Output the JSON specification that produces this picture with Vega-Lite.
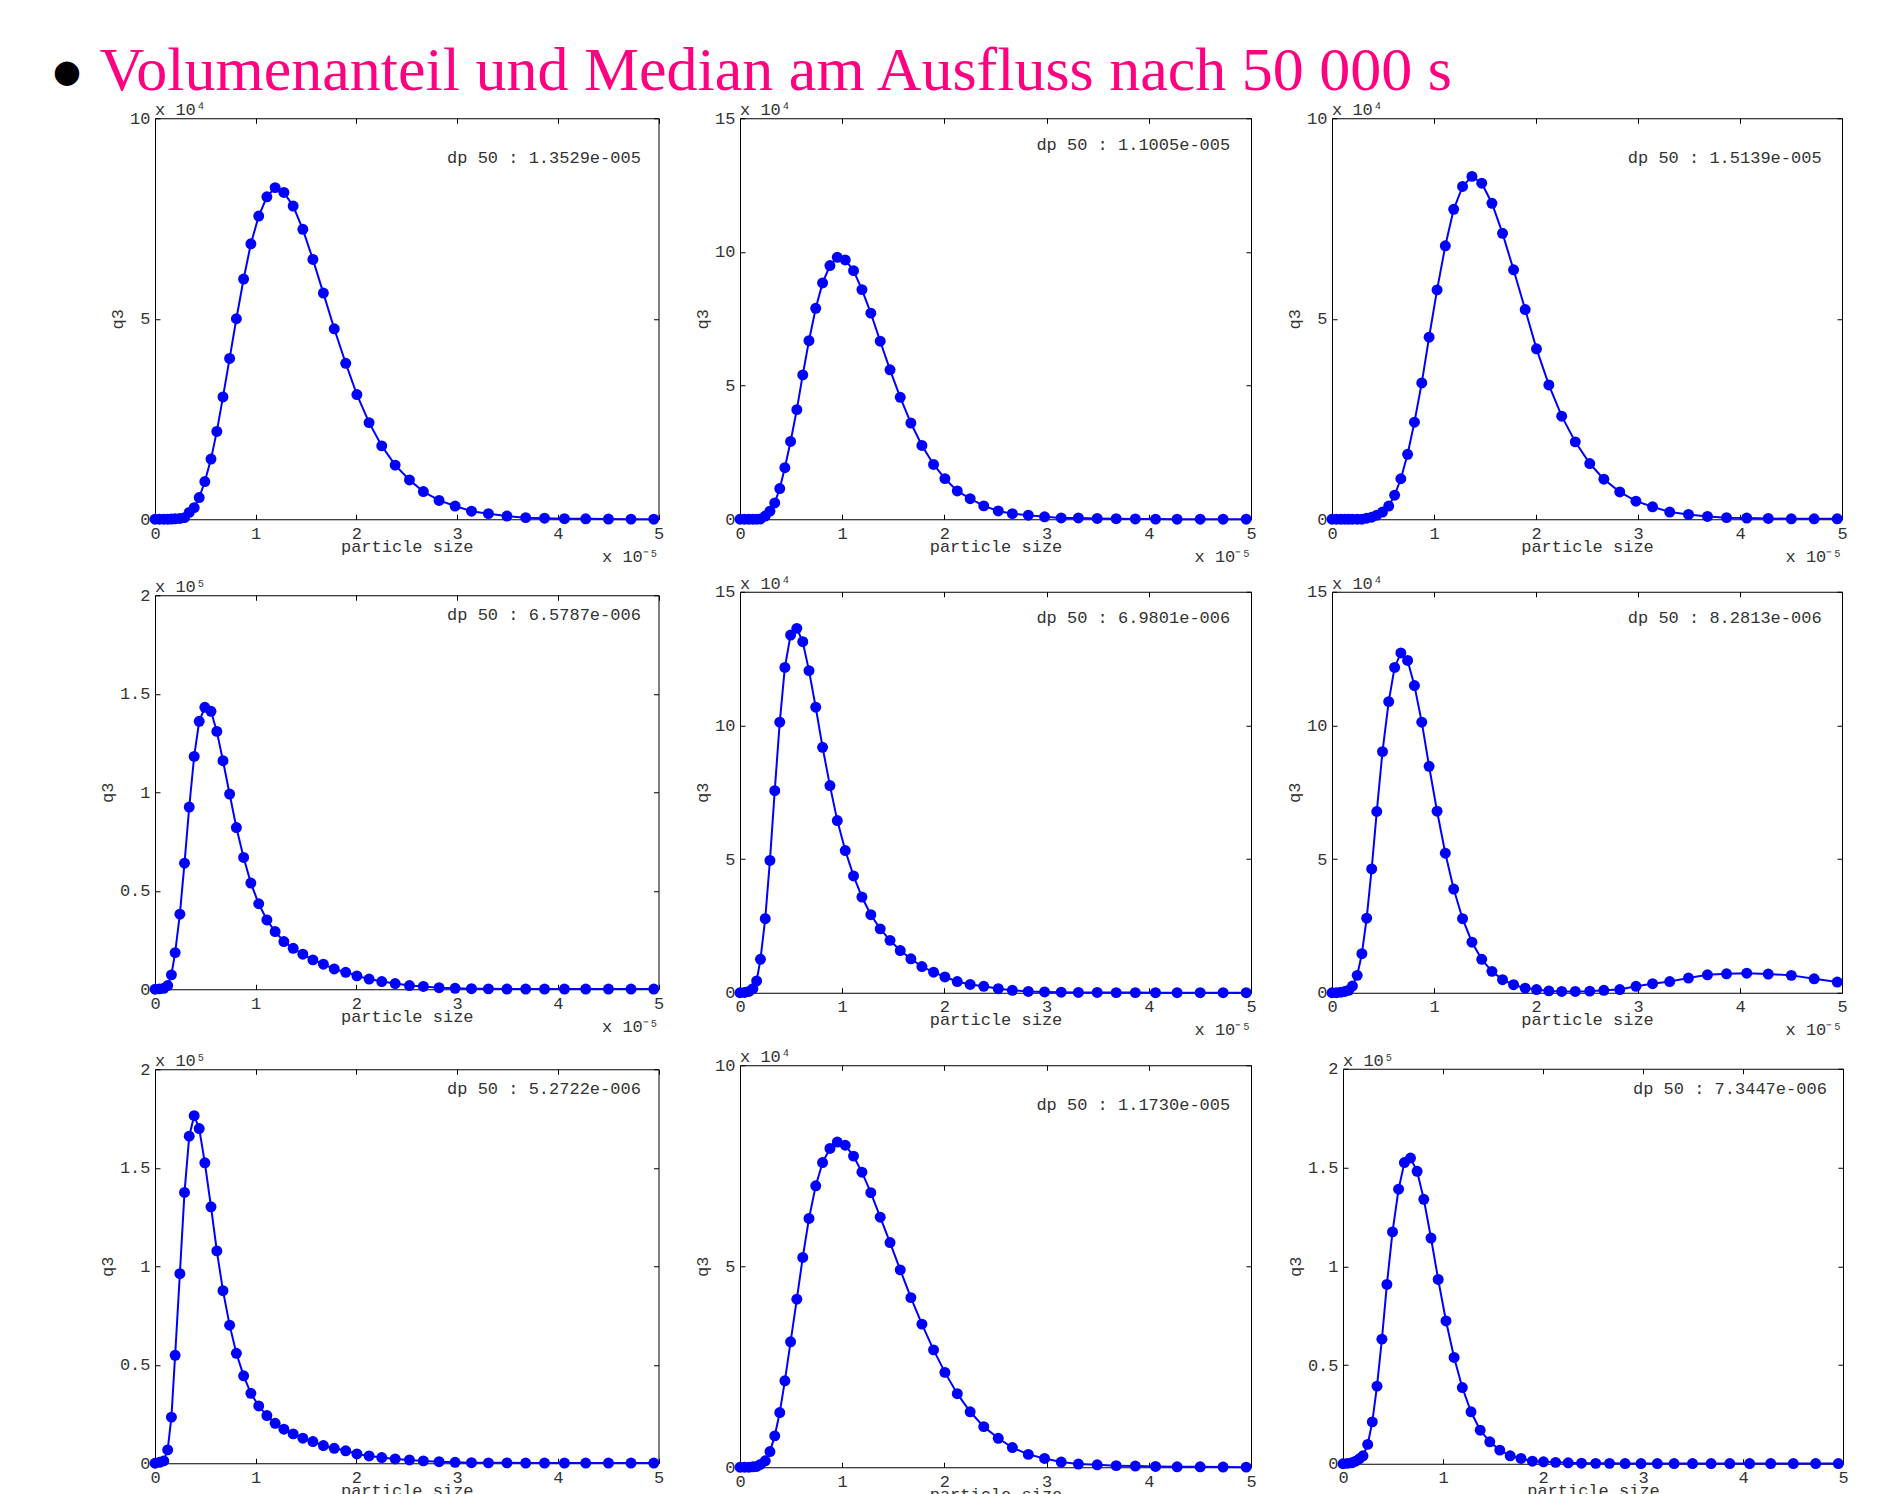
{
"$schema": "https://vega.github.io/schema/vega-lite/v6.json",
"background": "white",
"padding": {"left": 53, "top": 40, "right": 5, "bottom": 5},
"title": {"text": "●", "subtitle": "\u200b\u00a0\u00a0\u00a0Volumenanteil und Median am Ausfluss nach 50 000 s", "anchor": "start", "frame": "group", "dx": -102, "font": "DejaVu Sans", "fontSize": 32, "fontWeight": "normal", "color": "#000000", "subtitleFont": "Liberation Serif", "subtitleFontSize": 62, "subtitleColor": "#FF0080", "subtitlePadding": -47.3, "offset": -17.9},
"datasets": {"q": [
{"size": 0, "p1": 0, "p2": 0, "p3": 0, "p4": 0, "p5": 0, "p6": 0, "p7": 0, "p8": 0, "p9": 0},
{"size": 4.4e-7, "p1": 0, "p2": 0, "p3": 0, "p4": 200, "p5": 100, "p6": 0, "p7": 500, "p8": 0, "p9": 200},
{"size": 8.7e-7, "p1": 0, "p2": 0, "p3": 0, "p4": 500, "p5": 500, "p6": 200, "p7": 1200, "p8": 0, "p9": 500},
{"size": 1.26e-6, "p1": 0, "p2": 0, "p3": 0, "p4": 1900, "p5": 1500, "p6": 500, "p7": 6800, "p8": 100, "p9": 1300},
{"size": 1.63e-6, "p1": 50, "p2": 0, "p3": 0, "p4": 7300, "p5": 4400, "p6": 900, "p7": 23400, "p8": 200, "p9": 2500},
{"size": 2.0e-6, "p1": 100, "p2": 100, "p3": 0, "p4": 18600, "p5": 12500, "p6": 2500, "p7": 54800, "p8": 700, "p9": 4000},
{"size": 2.47e-6, "p1": 200, "p2": 1200, "p3": 0, "p4": 38100, "p5": 27700, "p6": 6500, "p7": 96200, "p8": 1600, "p9": 9800},
{"size": 2.93e-6, "p1": 400, "p2": 3000, "p3": 0, "p4": 64000, "p5": 49500, "p6": 14600, "p7": 137500, "p8": 3900, "p9": 21200},
{"size": 3.4e-6, "p1": 1700, "p2": 6100, "p3": 250, "p4": 92500, "p5": 75600, "p6": 27900, "p7": 166000, "p8": 7800, "p9": 39300},
{"size": 3.89e-6, "p1": 2900, "p2": 11500, "p3": 500, "p4": 118200, "p5": 101200, "p6": 46300, "p7": 176400, "p8": 13600, "p9": 63100},
{"size": 4.39e-6, "p1": 5400, "p2": 19300, "p3": 1000, "p4": 136000, "p5": 121700, "p6": 67800, "p7": 169900, "p8": 21500, "p9": 90800},
{"size": 4.95e-6, "p1": 9400, "p2": 29100, "p3": 1800, "p4": 143100, "p5": 133800, "p6": 90200, "p7": 152500, "p8": 31200, "p9": 117400},
{"size": 5.56e-6, "p1": 15000, "p2": 41000, "p3": 3300, "p4": 141100, "p5": 136300, "p6": 108900, "p7": 130200, "p8": 41800, "p9": 139000},
{"size": 6.14e-6, "p1": 21900, "p2": 54000, "p3": 6000, "p4": 130900, "p5": 131300, "p6": 121700, "p7": 107800, "p8": 52200, "p9": 152500},
{"size": 6.75e-6, "p1": 30500, "p2": 66800, "p3": 10100, "p4": 116000, "p5": 120500, "p6": 127100, "p7": 87600, "p8": 61900, "p9": 154800},
{"size": 7.41e-6, "p1": 40100, "p2": 78900, "p3": 16200, "p4": 99100, "p5": 106800, "p6": 124300, "p7": 70100, "p8": 70000, "p9": 148100},
{"size": 8.08e-6, "p1": 50000, "p2": 88400, "p3": 24200, "p4": 82100, "p5": 91800, "p6": 114900, "p7": 55800, "p8": 75800, "p9": 133900},
{"size": 8.8e-6, "p1": 59900, "p2": 94900, "p3": 34000, "p4": 66900, "p5": 77500, "p6": 101200, "p7": 44400, "p8": 79300, "p9": 114300},
{"size": 9.52e-6, "p1": 68700, "p2": 98000, "p3": 45400, "p4": 53900, "p5": 64400, "p6": 84700, "p7": 35500, "p8": 80900, "p9": 93300},
{"size": 1.03e-5, "p1": 75600, "p2": 97000, "p3": 57200, "p4": 43400, "p5": 53200, "p6": 67900, "p7": 29100, "p8": 80100, "p9": 72300},
{"size": 1.111e-5, "p1": 80400, "p2": 93000, "p3": 68200, "p4": 35200, "p5": 43700, "p6": 52200, "p7": 24200, "p8": 77400, "p9": 53800},
{"size": 1.193e-5, "p1": 82700, "p2": 85900, "p3": 77300, "p4": 29300, "p5": 35800, "p6": 38800, "p7": 20300, "p8": 73400, "p9": 38600},
{"size": 1.28e-5, "p1": 81500, "p2": 77100, "p3": 83000, "p4": 24200, "p5": 29200, "p6": 27700, "p7": 17300, "p8": 68300, "p9": 26300},
{"size": 1.372e-5, "p1": 78100, "p2": 66600, "p3": 85500, "p4": 20800, "p5": 23900, "p6": 18900, "p7": 14900, "p8": 62200, "p9": 17000},
{"size": 1.468e-5, "p1": 72300, "p2": 55900, "p3": 83800, "p4": 17800, "p5": 19600, "p6": 12500, "p7": 12700, "p8": 55900, "p9": 11100},
{"size": 1.568e-5, "p1": 64800, "p2": 45600, "p3": 78800, "p4": 14900, "p5": 15800, "p6": 8000, "p7": 11000, "p8": 49100, "p9": 6900},
{"size": 1.672e-5, "p1": 56400, "p2": 36000, "p3": 71300, "p4": 12700, "p5": 12700, "p6": 4900, "p7": 9000, "p8": 42200, "p9": 4000},
{"size": 1.78e-5, "p1": 47500, "p2": 27600, "p3": 62200, "p4": 10300, "p5": 9800, "p6": 3000, "p7": 7600, "p8": 35600, "p9": 2700},
{"size": 1.894e-5, "p1": 38900, "p2": 20500, "p3": 52300, "p4": 8600, "p5": 7700, "p6": 1700, "p7": 6300, "p8": 29200, "p9": 1300},
{"size": 2.005e-5, "p1": 31100, "p2": 15200, "p3": 42500, "p4": 6800, "p5": 5900, "p6": 1200, "p7": 4700, "p8": 23600, "p9": 1000},
{"size": 2.126e-5, "p1": 24100, "p2": 10600, "p3": 33500, "p4": 5200, "p5": 4200, "p6": 700, "p7": 3700, "p8": 18300, "p9": 700},
{"size": 2.252e-5, "p1": 18300, "p2": 7700, "p3": 25700, "p4": 3900, "p5": 3100, "p6": 500, "p7": 2900, "p8": 13800, "p9": 500},
{"size": 2.385e-5, "p1": 13500, "p2": 5000, "p3": 19300, "p4": 2900, "p5": 2400, "p6": 500, "p7": 2200, "p8": 10100, "p9": 300},
{"size": 2.527e-5, "p1": 9800, "p2": 3100, "p3": 13900, "p4": 1900, "p5": 1500, "p6": 600, "p7": 1700, "p8": 7200, "p9": 200},
{"size": 2.665e-5, "p1": 6900, "p2": 2100, "p3": 10000, "p4": 1400, "p5": 900, "p6": 900, "p7": 1200, "p8": 4900, "p9": 200},
{"size": 2.821e-5, "p1": 4700, "p2": 1500, "p3": 6800, "p4": 800, "p5": 500, "p6": 1200, "p7": 800, "p8": 3200, "p9": 100},
{"size": 2.98e-5, "p1": 3300, "p2": 900, "p3": 4500, "p4": 500, "p5": 300, "p6": 2400, "p7": 500, "p8": 2200, "p9": 100},
{"size": 3.143e-5, "p1": 2000, "p2": 500, "p3": 3100, "p4": 300, "p5": 200, "p6": 3400, "p7": 300, "p8": 1300, "p9": 100},
{"size": 3.311e-5, "p1": 1400, "p2": 500, "p3": 1800, "p4": 200, "p5": 100, "p6": 4200, "p7": 200, "p8": 800, "p9": 100},
{"size": 3.495e-5, "p1": 800, "p2": 300, "p3": 1200, "p4": 100, "p5": 100, "p6": 5500, "p7": 200, "p8": 600, "p9": 100},
{"size": 3.681e-5, "p1": 400, "p2": 200, "p3": 700, "p4": 100, "p5": 50, "p6": 6700, "p7": 100, "p8": 400, "p9": 100},
{"size": 3.868e-5, "p1": 250, "p2": 100, "p3": 400, "p4": 100, "p5": 50, "p6": 7100, "p7": 100, "p8": 300, "p9": 100},
{"size": 4.066e-5, "p1": 150, "p2": 50, "p3": 300, "p4": 100, "p5": 30, "p6": 7300, "p7": 100, "p8": 200, "p9": 100},
{"size": 4.277e-5, "p1": 100, "p2": 30, "p3": 200, "p4": 100, "p5": 20, "p6": 7000, "p7": 100, "p8": 100, "p9": 100},
{"size": 4.503e-5, "p1": 50, "p2": 20, "p3": 100, "p4": 100, "p5": 10, "p6": 6500, "p7": 100, "p8": 100, "p9": 100},
{"size": 4.727e-5, "p1": 30, "p2": 10, "p3": 100, "p4": 100, "p5": 10, "p6": 5200, "p7": 100, "p8": 50, "p9": 100},
{"size": 4.953e-5, "p1": 20, "p2": 10, "p3": 100, "p4": 100, "p5": 10, "p6": 4000, "p7": 100, "p8": 30, "p9": 100}
]},
"data": {"name": "q"},
"spacing": 8.5,
"vconcat": [
{"hconcat": [
{"width": 503.5, "height": 401,
 "title": {"text": "x 10⁴", "anchor": "start", "frame": "group", "baseline": "alphabetic", "offset": -23, "font": "Liberation Mono", "fontSize": 17, "fontWeight": "normal", "color": "#333333"},
 "layer": [
  {"mark": {"type": "line", "color": "#0000FF", "strokeWidth": 2},
   "encoding": {"x": {"field": "size", "type": "quantitative", "scale": {"domain": [0, 0.00005], "nice": false, "zero": false}, "axis": {"orient": "bottom", "values": [0, 0.00001, 0.00002, 0.00003, 0.00004, 0.00005], "labelExpr": "format(datum.value*100000,'~g')", "title": "particle size", "titleY": 32, "titleBaseline": "alphabetic", "labelPadding": 11}},
    "y": {"field": "p1", "type": "quantitative", "scale": {"domain": [0, 100000], "nice": false}, "axis": {"orient": "left", "values": [0, 50000, 100000], "labelExpr": "format(datum.value/10000,'~g')", "title": "q3", "labelPadding": 10, "titlePadding": 3}}}},
  {"mark": {"type": "point", "filled": true, "color": "#0000FF", "size": 120, "opacity": 1},
   "encoding": {"x": {"field": "size", "type": "quantitative", "scale": {"domain": [0, 0.00005], "nice": false, "zero": false}, "axis": {"orient": "top", "values": [0, 0.00001, 0.00002, 0.00003, 0.00004, 0.00005], "labels": false, "title": null}},
    "y": {"field": "p1", "type": "quantitative", "scale": {"domain": [0, 100000], "nice": false}, "axis": {"orient": "right", "values": [0, 50000, 100000], "labels": false, "title": null}}}},
  {"mark": {"type": "point", "opacity": 0},
   "encoding": {"x": {"field": "size", "type": "quantitative", "scale": {"domain": [0, 0.00005], "nice": false, "zero": false}, "axis": {"orient": "bottom", "labels": false, "ticks": false, "title": "x 10⁻⁵", "titleAnchor": "end", "titleY": 42, "titleBaseline": "alphabetic"}},
    "y": {"field": "p1", "type": "quantitative", "scale": {"domain": [0, 100000], "nice": false}, "axis": null}}},
  {"data": {"values": [{"label": "dp 50 : 1.3529e-005"}]},
   "mark": {"type": "text", "align": "left", "baseline": "middle", "font": "Liberation Mono", "fontSize": 17, "color": "#333333"},
   "encoding": {"x": {"datum": 0.000029, "type": "quantitative", "axis": null}, "y": {"datum": 90000, "type": "quantitative", "axis": null}, "text": {"field": "label"}}}
 ],
 "resolve": {"axis": {"x": "independent", "y": "independent"}}},
{"width": 511, "height": 401,
 "title": {"text": "x 10⁴", "anchor": "start", "frame": "group", "baseline": "alphabetic", "offset": -23, "font": "Liberation Mono", "fontSize": 17, "fontWeight": "normal", "color": "#333333"},
 "layer": [
  {"mark": {"type": "line", "color": "#0000FF", "strokeWidth": 2},
   "encoding": {"x": {"field": "size", "type": "quantitative", "scale": {"domain": [0, 0.00005], "nice": false, "zero": false}, "axis": {"orient": "bottom", "values": [0, 0.00001, 0.00002, 0.00003, 0.00004, 0.00005], "labelExpr": "format(datum.value*100000,'~g')", "title": "particle size", "titleY": 32, "titleBaseline": "alphabetic", "labelPadding": 11}},
    "y": {"field": "p2", "type": "quantitative", "scale": {"domain": [0, 150000], "nice": false}, "axis": {"orient": "left", "values": [0, 50000, 100000, 150000], "labelExpr": "format(datum.value/10000,'~g')", "title": "q3", "labelPadding": 10, "titlePadding": 3}}}},
  {"mark": {"type": "point", "filled": true, "color": "#0000FF", "size": 120, "opacity": 1},
   "encoding": {"x": {"field": "size", "type": "quantitative", "scale": {"domain": [0, 0.00005], "nice": false, "zero": false}, "axis": {"orient": "top", "values": [0, 0.00001, 0.00002, 0.00003, 0.00004, 0.00005], "labels": false, "title": null}},
    "y": {"field": "p2", "type": "quantitative", "scale": {"domain": [0, 150000], "nice": false}, "axis": {"orient": "right", "values": [0, 50000, 100000, 150000], "labels": false, "title": null}}}},
  {"mark": {"type": "point", "opacity": 0},
   "encoding": {"x": {"field": "size", "type": "quantitative", "scale": {"domain": [0, 0.00005], "nice": false, "zero": false}, "axis": {"orient": "bottom", "labels": false, "ticks": false, "title": "x 10⁻⁵", "titleAnchor": "end", "titleY": 42, "titleBaseline": "alphabetic"}},
    "y": {"field": "p2", "type": "quantitative", "scale": {"domain": [0, 150000], "nice": false}, "axis": null}}},
  {"data": {"values": [{"label": "dp 50 : 1.1005e-005"}]},
   "mark": {"type": "text", "align": "left", "baseline": "middle", "font": "Liberation Mono", "fontSize": 17, "color": "#333333"},
   "encoding": {"x": {"datum": 0.000029, "type": "quantitative", "axis": null}, "y": {"datum": 140000, "type": "quantitative", "axis": null}, "text": {"field": "label"}}}
 ],
 "resolve": {"axis": {"x": "independent", "y": "independent"}}},
{"width": 510, "height": 401,
 "title": {"text": "x 10⁴", "anchor": "start", "frame": "group", "baseline": "alphabetic", "offset": -23, "font": "Liberation Mono", "fontSize": 17, "fontWeight": "normal", "color": "#333333"},
 "layer": [
  {"mark": {"type": "line", "color": "#0000FF", "strokeWidth": 2},
   "encoding": {"x": {"field": "size", "type": "quantitative", "scale": {"domain": [0, 0.00005], "nice": false, "zero": false}, "axis": {"orient": "bottom", "values": [0, 0.00001, 0.00002, 0.00003, 0.00004, 0.00005], "labelExpr": "format(datum.value*100000,'~g')", "title": "particle size", "titleY": 32, "titleBaseline": "alphabetic", "labelPadding": 11}},
    "y": {"field": "p3", "type": "quantitative", "scale": {"domain": [0, 100000], "nice": false}, "axis": {"orient": "left", "values": [0, 50000, 100000], "labelExpr": "format(datum.value/10000,'~g')", "title": "q3", "labelPadding": 10, "titlePadding": 3}}}},
  {"mark": {"type": "point", "filled": true, "color": "#0000FF", "size": 120, "opacity": 1},
   "encoding": {"x": {"field": "size", "type": "quantitative", "scale": {"domain": [0, 0.00005], "nice": false, "zero": false}, "axis": {"orient": "top", "values": [0, 0.00001, 0.00002, 0.00003, 0.00004, 0.00005], "labels": false, "title": null}},
    "y": {"field": "p3", "type": "quantitative", "scale": {"domain": [0, 100000], "nice": false}, "axis": {"orient": "right", "values": [0, 50000, 100000], "labels": false, "title": null}}}},
  {"mark": {"type": "point", "opacity": 0},
   "encoding": {"x": {"field": "size", "type": "quantitative", "scale": {"domain": [0, 0.00005], "nice": false, "zero": false}, "axis": {"orient": "bottom", "labels": false, "ticks": false, "title": "x 10⁻⁵", "titleAnchor": "end", "titleY": 42, "titleBaseline": "alphabetic"}},
    "y": {"field": "p3", "type": "quantitative", "scale": {"domain": [0, 100000], "nice": false}, "axis": null}}},
  {"data": {"values": [{"label": "dp 50 : 1.5139e-005"}]},
   "mark": {"type": "text", "align": "left", "baseline": "middle", "font": "Liberation Mono", "fontSize": 17, "color": "#333333"},
   "encoding": {"x": {"datum": 0.000029, "type": "quantitative", "axis": null}, "y": {"datum": 90000, "type": "quantitative", "axis": null}, "text": {"field": "label"}}}
 ],
 "resolve": {"axis": {"x": "independent", "y": "independent"}}}
], "spacing": 28, "center": true},
{"hconcat": [
{"width": 503.5, "height": 394,
 "title": {"text": "x 10⁵", "anchor": "start", "frame": "group", "baseline": "alphabetic", "offset": -23, "font": "Liberation Mono", "fontSize": 17, "fontWeight": "normal", "color": "#333333"},
 "layer": [
  {"mark": {"type": "line", "color": "#0000FF", "strokeWidth": 2},
   "encoding": {"x": {"field": "size", "type": "quantitative", "scale": {"domain": [0, 0.00005], "nice": false, "zero": false}, "axis": {"orient": "bottom", "values": [0, 0.00001, 0.00002, 0.00003, 0.00004, 0.00005], "labelExpr": "format(datum.value*100000,'~g')", "title": "particle size", "titleY": 32, "titleBaseline": "alphabetic", "labelPadding": 11}},
    "y": {"field": "p4", "type": "quantitative", "scale": {"domain": [0, 200000], "nice": false}, "axis": {"orient": "left", "values": [0, 50000, 100000, 150000, 200000], "labelExpr": "format(datum.value/100000,'~g')", "title": "q3", "labelPadding": 10, "titlePadding": 3}}}},
  {"mark": {"type": "point", "filled": true, "color": "#0000FF", "size": 120, "opacity": 1},
   "encoding": {"x": {"field": "size", "type": "quantitative", "scale": {"domain": [0, 0.00005], "nice": false, "zero": false}, "axis": {"orient": "top", "values": [0, 0.00001, 0.00002, 0.00003, 0.00004, 0.00005], "labels": false, "title": null}},
    "y": {"field": "p4", "type": "quantitative", "scale": {"domain": [0, 200000], "nice": false}, "axis": {"orient": "right", "values": [0, 50000, 100000, 150000, 200000], "labels": false, "title": null}}}},
  {"mark": {"type": "point", "opacity": 0},
   "encoding": {"x": {"field": "size", "type": "quantitative", "scale": {"domain": [0, 0.00005], "nice": false, "zero": false}, "axis": {"orient": "bottom", "labels": false, "ticks": false, "title": "x 10⁻⁵", "titleAnchor": "end", "titleY": 42, "titleBaseline": "alphabetic"}},
    "y": {"field": "p4", "type": "quantitative", "scale": {"domain": [0, 200000], "nice": false}, "axis": null}}},
  {"data": {"values": [{"label": "dp 50 : 6.5787e-006"}]},
   "mark": {"type": "text", "align": "left", "baseline": "middle", "font": "Liberation Mono", "fontSize": 17, "color": "#333333"},
   "encoding": {"x": {"datum": 0.000029, "type": "quantitative", "axis": null}, "y": {"datum": 190000, "type": "quantitative", "axis": null}, "text": {"field": "label"}}}
 ],
 "resolve": {"axis": {"x": "independent", "y": "independent"}}},
{"width": 511, "height": 401,
 "title": {"text": "x 10⁴", "anchor": "start", "frame": "group", "baseline": "alphabetic", "offset": -23, "font": "Liberation Mono", "fontSize": 17, "fontWeight": "normal", "color": "#333333"},
 "layer": [
  {"mark": {"type": "line", "color": "#0000FF", "strokeWidth": 2},
   "encoding": {"x": {"field": "size", "type": "quantitative", "scale": {"domain": [0, 0.00005], "nice": false, "zero": false}, "axis": {"orient": "bottom", "values": [0, 0.00001, 0.00002, 0.00003, 0.00004, 0.00005], "labelExpr": "format(datum.value*100000,'~g')", "title": "particle size", "titleY": 32, "titleBaseline": "alphabetic", "labelPadding": 11}},
    "y": {"field": "p5", "type": "quantitative", "scale": {"domain": [0, 150000], "nice": false}, "axis": {"orient": "left", "values": [0, 50000, 100000, 150000], "labelExpr": "format(datum.value/10000,'~g')", "title": "q3", "labelPadding": 10, "titlePadding": 3}}}},
  {"mark": {"type": "point", "filled": true, "color": "#0000FF", "size": 120, "opacity": 1},
   "encoding": {"x": {"field": "size", "type": "quantitative", "scale": {"domain": [0, 0.00005], "nice": false, "zero": false}, "axis": {"orient": "top", "values": [0, 0.00001, 0.00002, 0.00003, 0.00004, 0.00005], "labels": false, "title": null}},
    "y": {"field": "p5", "type": "quantitative", "scale": {"domain": [0, 150000], "nice": false}, "axis": {"orient": "right", "values": [0, 50000, 100000, 150000], "labels": false, "title": null}}}},
  {"mark": {"type": "point", "opacity": 0},
   "encoding": {"x": {"field": "size", "type": "quantitative", "scale": {"domain": [0, 0.00005], "nice": false, "zero": false}, "axis": {"orient": "bottom", "labels": false, "ticks": false, "title": "x 10⁻⁵", "titleAnchor": "end", "titleY": 42, "titleBaseline": "alphabetic"}},
    "y": {"field": "p5", "type": "quantitative", "scale": {"domain": [0, 150000], "nice": false}, "axis": null}}},
  {"data": {"values": [{"label": "dp 50 : 6.9801e-006"}]},
   "mark": {"type": "text", "align": "left", "baseline": "middle", "font": "Liberation Mono", "fontSize": 17, "color": "#333333"},
   "encoding": {"x": {"datum": 0.000029, "type": "quantitative", "axis": null}, "y": {"datum": 140000, "type": "quantitative", "axis": null}, "text": {"field": "label"}}}
 ],
 "resolve": {"axis": {"x": "independent", "y": "independent"}}},
{"width": 510, "height": 401,
 "title": {"text": "x 10⁴", "anchor": "start", "frame": "group", "baseline": "alphabetic", "offset": -23, "font": "Liberation Mono", "fontSize": 17, "fontWeight": "normal", "color": "#333333"},
 "layer": [
  {"mark": {"type": "line", "color": "#0000FF", "strokeWidth": 2},
   "encoding": {"x": {"field": "size", "type": "quantitative", "scale": {"domain": [0, 0.00005], "nice": false, "zero": false}, "axis": {"orient": "bottom", "values": [0, 0.00001, 0.00002, 0.00003, 0.00004, 0.00005], "labelExpr": "format(datum.value*100000,'~g')", "title": "particle size", "titleY": 32, "titleBaseline": "alphabetic", "labelPadding": 11}},
    "y": {"field": "p6", "type": "quantitative", "scale": {"domain": [0, 150000], "nice": false}, "axis": {"orient": "left", "values": [0, 50000, 100000, 150000], "labelExpr": "format(datum.value/10000,'~g')", "title": "q3", "labelPadding": 10, "titlePadding": 3}}}},
  {"mark": {"type": "point", "filled": true, "color": "#0000FF", "size": 120, "opacity": 1},
   "encoding": {"x": {"field": "size", "type": "quantitative", "scale": {"domain": [0, 0.00005], "nice": false, "zero": false}, "axis": {"orient": "top", "values": [0, 0.00001, 0.00002, 0.00003, 0.00004, 0.00005], "labels": false, "title": null}},
    "y": {"field": "p6", "type": "quantitative", "scale": {"domain": [0, 150000], "nice": false}, "axis": {"orient": "right", "values": [0, 50000, 100000, 150000], "labels": false, "title": null}}}},
  {"mark": {"type": "point", "opacity": 0},
   "encoding": {"x": {"field": "size", "type": "quantitative", "scale": {"domain": [0, 0.00005], "nice": false, "zero": false}, "axis": {"orient": "bottom", "labels": false, "ticks": false, "title": "x 10⁻⁵", "titleAnchor": "end", "titleY": 42, "titleBaseline": "alphabetic"}},
    "y": {"field": "p6", "type": "quantitative", "scale": {"domain": [0, 150000], "nice": false}, "axis": null}}},
  {"data": {"values": [{"label": "dp 50 : 8.2813e-006"}]},
   "mark": {"type": "text", "align": "left", "baseline": "middle", "font": "Liberation Mono", "fontSize": 17, "color": "#333333"},
   "encoding": {"x": {"datum": 0.000029, "type": "quantitative", "axis": null}, "y": {"datum": 140000, "type": "quantitative", "axis": null}, "text": {"field": "label"}}}
 ],
 "resolve": {"axis": {"x": "independent", "y": "independent"}}}
], "spacing": 28, "center": true},
{"hconcat": [
{"width": 503.5, "height": 394,
 "title": {"text": "x 10⁵", "anchor": "start", "frame": "group", "baseline": "alphabetic", "offset": -23, "font": "Liberation Mono", "fontSize": 17, "fontWeight": "normal", "color": "#333333"},
 "layer": [
  {"mark": {"type": "line", "color": "#0000FF", "strokeWidth": 2},
   "encoding": {"x": {"field": "size", "type": "quantitative", "scale": {"domain": [0, 0.00005], "nice": false, "zero": false}, "axis": {"orient": "bottom", "values": [0, 0.00001, 0.00002, 0.00003, 0.00004, 0.00005], "labelExpr": "format(datum.value*100000,'~g')", "title": "particle size", "titleY": 32, "titleBaseline": "alphabetic", "labelPadding": 11}},
    "y": {"field": "p7", "type": "quantitative", "scale": {"domain": [0, 200000], "nice": false}, "axis": {"orient": "left", "values": [0, 50000, 100000, 150000, 200000], "labelExpr": "format(datum.value/100000,'~g')", "title": "q3", "labelPadding": 10, "titlePadding": 3}}}},
  {"mark": {"type": "point", "filled": true, "color": "#0000FF", "size": 120, "opacity": 1},
   "encoding": {"x": {"field": "size", "type": "quantitative", "scale": {"domain": [0, 0.00005], "nice": false, "zero": false}, "axis": {"orient": "top", "values": [0, 0.00001, 0.00002, 0.00003, 0.00004, 0.00005], "labels": false, "title": null}},
    "y": {"field": "p7", "type": "quantitative", "scale": {"domain": [0, 200000], "nice": false}, "axis": {"orient": "right", "values": [0, 50000, 100000, 150000, 200000], "labels": false, "title": null}}}},
  {"mark": {"type": "point", "opacity": 0},
   "encoding": {"x": {"field": "size", "type": "quantitative", "scale": {"domain": [0, 0.00005], "nice": false, "zero": false}, "axis": {"orient": "bottom", "labels": false, "ticks": false, "title": "x 10⁻⁵", "titleAnchor": "end", "titleY": 42, "titleBaseline": "alphabetic"}},
    "y": {"field": "p7", "type": "quantitative", "scale": {"domain": [0, 200000], "nice": false}, "axis": null}}},
  {"data": {"values": [{"label": "dp 50 : 5.2722e-006"}]},
   "mark": {"type": "text", "align": "left", "baseline": "middle", "font": "Liberation Mono", "fontSize": 17, "color": "#333333"},
   "encoding": {"x": {"datum": 0.000029, "type": "quantitative", "axis": null}, "y": {"datum": 190000, "type": "quantitative", "axis": null}, "text": {"field": "label"}}}
 ],
 "resolve": {"axis": {"x": "independent", "y": "independent"}}},
{"width": 511, "height": 402,
 "title": {"text": "x 10⁴", "anchor": "start", "frame": "group", "baseline": "alphabetic", "offset": -23, "font": "Liberation Mono", "fontSize": 17, "fontWeight": "normal", "color": "#333333"},
 "layer": [
  {"mark": {"type": "line", "color": "#0000FF", "strokeWidth": 2},
   "encoding": {"x": {"field": "size", "type": "quantitative", "scale": {"domain": [0, 0.00005], "nice": false, "zero": false}, "axis": {"orient": "bottom", "values": [0, 0.00001, 0.00002, 0.00003, 0.00004, 0.00005], "labelExpr": "format(datum.value*100000,'~g')", "title": "particle size", "titleY": 32, "titleBaseline": "alphabetic", "labelPadding": 11}},
    "y": {"field": "p8", "type": "quantitative", "scale": {"domain": [0, 100000], "nice": false}, "axis": {"orient": "left", "values": [0, 50000, 100000], "labelExpr": "format(datum.value/10000,'~g')", "title": "q3", "labelPadding": 10, "titlePadding": 3}}}},
  {"mark": {"type": "point", "filled": true, "color": "#0000FF", "size": 120, "opacity": 1},
   "encoding": {"x": {"field": "size", "type": "quantitative", "scale": {"domain": [0, 0.00005], "nice": false, "zero": false}, "axis": {"orient": "top", "values": [0, 0.00001, 0.00002, 0.00003, 0.00004, 0.00005], "labels": false, "title": null}},
    "y": {"field": "p8", "type": "quantitative", "scale": {"domain": [0, 100000], "nice": false}, "axis": {"orient": "right", "values": [0, 50000, 100000], "labels": false, "title": null}}}},
  {"mark": {"type": "point", "opacity": 0},
   "encoding": {"x": {"field": "size", "type": "quantitative", "scale": {"domain": [0, 0.00005], "nice": false, "zero": false}, "axis": {"orient": "bottom", "labels": false, "ticks": false, "title": "x 10⁻⁵", "titleAnchor": "end", "titleY": 42, "titleBaseline": "alphabetic"}},
    "y": {"field": "p8", "type": "quantitative", "scale": {"domain": [0, 100000], "nice": false}, "axis": null}}},
  {"data": {"values": [{"label": "dp 50 : 1.1730e-005"}]},
   "mark": {"type": "text", "align": "left", "baseline": "middle", "font": "Liberation Mono", "fontSize": 17, "color": "#333333"},
   "encoding": {"x": {"datum": 0.000029, "type": "quantitative", "axis": null}, "y": {"datum": 90000, "type": "quantitative", "axis": null}, "text": {"field": "label"}}}
 ],
 "resolve": {"axis": {"x": "independent", "y": "independent"}}},
{"width": 500, "height": 395,
 "title": {"text": "x 10⁵", "anchor": "start", "frame": "group", "baseline": "alphabetic", "offset": -23, "font": "Liberation Mono", "fontSize": 17, "fontWeight": "normal", "color": "#333333"},
 "layer": [
  {"mark": {"type": "line", "color": "#0000FF", "strokeWidth": 2},
   "encoding": {"x": {"field": "size", "type": "quantitative", "scale": {"domain": [0, 0.00005], "nice": false, "zero": false}, "axis": {"orient": "bottom", "values": [0, 0.00001, 0.00002, 0.00003, 0.00004, 0.00005], "labelExpr": "format(datum.value*100000,'~g')", "title": "particle size", "titleY": 32, "titleBaseline": "alphabetic", "labelPadding": 11}},
    "y": {"field": "p9", "type": "quantitative", "scale": {"domain": [0, 200000], "nice": false}, "axis": {"orient": "left", "values": [0, 50000, 100000, 150000, 200000], "labelExpr": "format(datum.value/100000,'~g')", "title": "q3", "labelPadding": 10, "titlePadding": 3}}}},
  {"mark": {"type": "point", "filled": true, "color": "#0000FF", "size": 120, "opacity": 1},
   "encoding": {"x": {"field": "size", "type": "quantitative", "scale": {"domain": [0, 0.00005], "nice": false, "zero": false}, "axis": {"orient": "top", "values": [0, 0.00001, 0.00002, 0.00003, 0.00004, 0.00005], "labels": false, "title": null}},
    "y": {"field": "p9", "type": "quantitative", "scale": {"domain": [0, 200000], "nice": false}, "axis": {"orient": "right", "values": [0, 50000, 100000, 150000, 200000], "labels": false, "title": null}}}},
  {"mark": {"type": "point", "opacity": 0},
   "encoding": {"x": {"field": "size", "type": "quantitative", "scale": {"domain": [0, 0.00005], "nice": false, "zero": false}, "axis": {"orient": "bottom", "labels": false, "ticks": false, "title": "x 10⁻⁵", "titleAnchor": "end", "titleY": 42, "titleBaseline": "alphabetic"}},
    "y": {"field": "p9", "type": "quantitative", "scale": {"domain": [0, 200000], "nice": false}, "axis": null}}},
  {"data": {"values": [{"label": "dp 50 : 7.3447e-006"}]},
   "mark": {"type": "text", "align": "left", "baseline": "middle", "font": "Liberation Mono", "fontSize": 17, "color": "#333333"},
   "encoding": {"x": {"datum": 0.000029, "type": "quantitative", "axis": null}, "y": {"datum": 190000, "type": "quantitative", "axis": null}, "text": {"field": "label"}}}
 ],
 "resolve": {"axis": {"x": "independent", "y": "independent"}}}
], "spacing": 28, "center": true}
],
"config": {
 "view": {"stroke": "#000000", "strokeWidth": 1},
 "axis": {"grid": false, "domain": false, "tickSize": -5, "tickColor": "#000000", "tickWidth": 1, "labelFlush": false, "labelOverlap": false, "labelFont": "Liberation Mono", "labelFontSize": 17, "labelColor": "#333333", "titleFont": "Liberation Mono", "titleFontSize": 17, "titleFontWeight": "normal", "titleColor": "#333333"}
}
}
